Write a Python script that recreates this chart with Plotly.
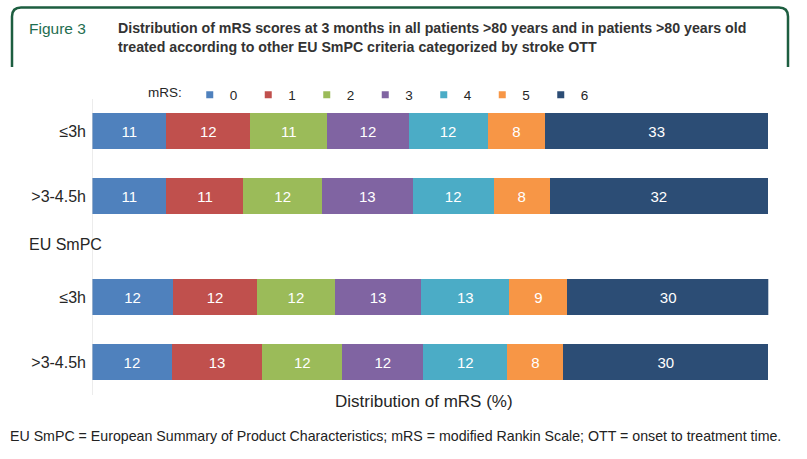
import plotly.graph_objects as go

W, H = 807, 459

# ---- data ----
row_labels = ["≤3h", ">3-4.5h"]
group_label = "EU SmPC"
mrs_scores = ["0", "1", "2", "3", "4", "5", "6"]
colors = ["#4F81BD", "#C0504D", "#9BBB59", "#8064A2", "#4BACC6", "#F79646", "#2C4D75"]

# values (%) per mRS score: [all >80 ≤3h, all >80 >3-4.5h, EU SmPC ≤3h, EU SmPC >3-4.5h]
mrs0 = [11.0, 11.0, 12.0, 11.8]
mrs1 = [12.4, 11.4, 12.4, 13.4]
mrs2 = [11.4, 11.6, 11.5, 11.8]
mrs3 = [12.0, 13.4, 12.8, 12.0]
mrs4 = [11.7, 12.0, 13.0, 12.4]
mrs5 = [8.5, 8.3, 8.6, 8.3]
mrs6 = [33.0, 32.2, 29.8, 30.3]
values = [mrs0, mrs1, mrs2, mrs3, mrs4, mrs5, mrs6]

# labels printed on the bars
lab0 = [11, 11, 12, 12]
lab1 = [12, 11, 12, 13]
lab2 = [11, 12, 12, 12]
lab3 = [12, 13, 13, 12]
lab4 = [12, 12, 13, 12]
lab5 = [8, 8, 9, 8]
lab6 = [33, 32, 30, 30]
labels = [lab0, lab1, lab2, lab3, lab4, lab5, lab6]

title_line1 = "Distribution of mRS scores at 3 months in all patients >80 years and in patients >80 years old"
title_line2 = "treated according to other EU SmPC criteria categorized by stroke OTT"
fig_label = "Figure 3"
x_title = "Distribution of mRS (%)"
footnote = ("EU SmPC = European Summary of Product Characteristics; mRS = modified Rankin Scale; "
            "OTT = onset to treatment time.")


def px(x):
    return x / W


def py(y):
    return 1 - y / H


BASE = "Liberation Sans, Arial, sans-serif"
TXT = "#262626"

fig = go.Figure()

for i, score in enumerate(mrs_scores):
    v = values[i]
    l = labels[i]
    for axis, sl in (("y", slice(0, 2)), ("y2", slice(2, 4))):
        fig.add_trace(go.Bar(
            x=v[sl], y=row_labels, orientation="h", yaxis=axis, xaxis="x",
            marker=dict(color=colors[i], line=dict(width=0)),
            text=[str(t) for t in l[sl]], textposition="inside",
            insidetextanchor="middle", textangle=0,
            textfont=dict(color="white", size=15, family=BASE),
            width=0.55, showlegend=False, legendgroup=score,
            hoverinfo="x+y",
        ))
    # legend entry (small square marker)
    fig.add_trace(go.Scatter(
        x=[None], y=[None], mode="markers", name=score, legendgroup=score,
        marker=dict(symbol="square", size=7, color=colors[i]),
        xaxis="x", yaxis="y",
    ))

# header frame (open at bottom, rounded top corners)
x0, x1, yt, yb, r = 12, 788, 7.5, 67, 9
path = (f"M {px(x0)},{py(yb)} L {px(x0)},{py(yt + r)} "
        f"Q {px(x0)},{py(yt)} {px(x0 + r)},{py(yt)} "
        f"L {px(x1 - r)},{py(yt)} Q {px(x1)},{py(yt)} {px(x1)},{py(yt + r)} "
        f"L {px(x1)},{py(yb)}")
shapes = [
    dict(type="path", path=path, xref="paper", yref="paper",
         line=dict(color="#1D5E40", width=2.5)),
    dict(type="line", xref="x", yref="paper", x0=0, x1=0, y0=py(395), y1=py(99),
         line=dict(color="#D9D9D9", width=1)),
]

annotations = [
    dict(text=fig_label, x=px(27), y=py(28), xanchor="left", yanchor="middle",
         showarrow=False, font=dict(family=BASE, size=15.5, color="#1F6E50"),
         xref="paper", yref="paper"),
    dict(text="<b>" + title_line1 + "</b>", x=px(116), y=py(28), xanchor="left", yanchor="middle",
         showarrow=False, font=dict(family=BASE, size=14.2, color="#333333"),
         xref="paper", yref="paper"),
    dict(text="<b>" + title_line2 + "</b>", x=px(116), y=py(47), xanchor="left", yanchor="middle",
         showarrow=False, font=dict(family=BASE, size=14.2, color="#333333"),
         xref="paper", yref="paper"),
    dict(text=group_label, x=px(27), y=py(245), xanchor="left", yanchor="middle",
         showarrow=False, font=dict(family=BASE, size=16, color=TXT),
         xref="paper", yref="paper"),
    dict(text=x_title, x=px(424), y=py(401), xanchor="center", yanchor="middle",
         showarrow=False, font=dict(family=BASE, size=17, color=TXT),
         xref="paper", yref="paper"),
    dict(text=footnote, x=px(8), y=py(436), xanchor="left", yanchor="middle",
         showarrow=False, font=dict(family=BASE, size=14.2, color="#222222"),
         xref="paper", yref="paper"),
]

fig.update_layout(
    width=W, height=H,
    margin=dict(l=0, r=0, t=0, b=0),
    paper_bgcolor="white", plot_bgcolor="white",
    barmode="stack",
    font=dict(family=BASE, color=TXT),
    xaxis=dict(domain=[px(92), px(768.3)], range=[0, 100], anchor="y2",
               showticklabels=False, showgrid=False, zeroline=False, showline=False,
               ticks=""),
    yaxis=dict(domain=[py(228.5), py(98.5)], anchor="x", type="category",
               autorange="reversed", showgrid=False, zeroline=False, showline=False,
               ticks="", ticklabelstandoff=5,
               tickfont=dict(size=16, family=BASE, color=TXT)),
    yaxis2=dict(domain=[py(394.5), py(264.5)], anchor="x", type="category",
                autorange="reversed", showgrid=False, zeroline=False, showline=False,
                ticks="", ticklabelstandoff=5,
                tickfont=dict(size=16, family=BASE, color=TXT)),
    legend=dict(orientation="h", x=px(146), y=py(95), xanchor="left", yanchor="middle",
                title=dict(text="mRS:", side="left", font=dict(size=13.5, color=TXT)),
                font=dict(size=13.5, color=TXT, family=BASE),
                entrywidth=13.5, entrywidthmode="pixels",
                bgcolor="rgba(0,0,0,0)", borderwidth=0, traceorder="normal",
                itemclick=False, itemdoubleclick=False),
    shapes=shapes,
    annotations=annotations,
    showlegend=True,
)

fig.write_html("out.html", config={"displayModeBar": False},
               post_script="document.body.style.margin='0';document.body.style.overflow='hidden';")
